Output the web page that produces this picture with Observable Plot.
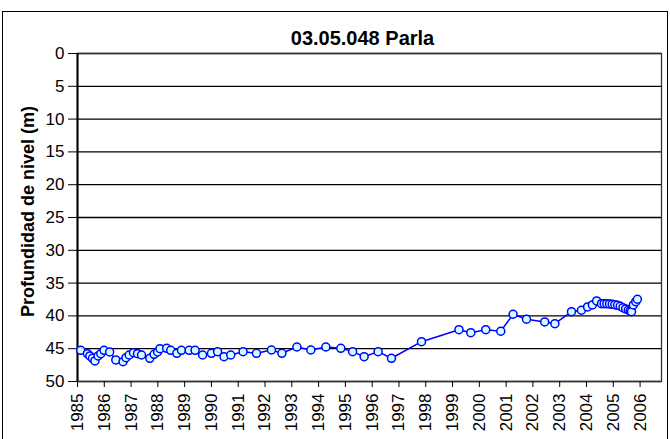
<!DOCTYPE html>
<html><head><meta charset="utf-8">
<script src="https://cdn.jsdelivr.net/npm/d3@7"></script>
<script src="https://cdn.jsdelivr.net/npm/@observablehq/plot@0.6"></script>
<style>body{margin:0;background:#fff;} #chart{width:670px;height:439px;}</style>
</head><body><div id="chart"></div>
<script>
const title = "03.05.048 Parla";
const yLabel = "Profundidad de nivel (m)";
const dates = [
  1985.12, 1985.37, 1985.46, 1985.56, 1985.65, 1985.77, 1985.87, 1985.99, 1986.20, 1986.43,
  1986.70, 1986.81, 1986.93, 1987.09, 1987.24, 1987.39, 1987.70, 1987.86, 1987.99, 1988.08,
  1988.33, 1988.48, 1988.71, 1988.88, 1989.17, 1989.39, 1989.67, 1990.00, 1990.23, 1990.47,
  1990.72, 1991.18, 1991.68, 1992.24, 1992.63, 1993.19, 1993.71, 1994.27, 1994.83, 1995.27,
  1995.70, 1996.22, 1996.72, 1997.84, 1999.24, 1999.68, 2000.24, 2000.80, 2001.26, 2001.76,
  2002.44, 2002.82, 2003.44, 2003.81, 2004.04, 2004.22, 2004.38, 2004.56, 2004.66, 2004.76,
  2004.86, 2004.96, 2005.06, 2005.16, 2005.26, 2005.36, 2005.46, 2005.56, 2005.63, 2005.68,
  2005.75, 2005.84, 2005.90
];
const depths = [
  45.24, 45.76, 46.11, 46.46, 46.87, 46.11, 45.76, 45.24, 45.50, 46.72,
  46.98, 46.37, 45.96, 45.61, 45.76, 45.96, 46.46, 45.85, 45.50, 45.00,
  44.94, 45.24, 45.70, 45.24, 45.24, 45.24, 45.96, 45.70, 45.45, 46.22,
  45.96, 45.45, 45.70, 45.20, 45.70, 44.74, 45.20, 44.74, 44.94, 45.45,
  46.22, 45.45, 46.46, 43.93, 42.10, 42.56, 42.10, 42.34, 39.75, 40.51,
  40.92, 41.18, 39.35, 39.14, 38.64, 38.33, 37.72, 38.13, 38.13, 38.13,
  38.18, 38.23, 38.29, 38.38, 38.53, 38.74, 38.94, 39.10, 39.25, 39.36,
  38.33, 37.83, 37.46
];
const yearTicks = [1985,1986,1987,1988,1989,1990,1991,1992,1993,1994,1995,1996,1997,1998,1999,2000,2001,2002,2003,2004,2005,2006];
const depthTicks = [0,5,10,15,20,25,30,35,40,45,50];

const data = dates.map((t, i) => ({t, d: depths[i]}));

const chart = Plot.plot({
  width: 670, height: 439,
  marginLeft: 77, marginRight: 9, marginTop: 53, marginBottom: 58,
  style: {fontFamily: "Arial, 'Liberation Sans', sans-serif", background: "#fff", color: "#000"},
  x: {domain: [1985, 2006.8]},
  y: {domain: [0, 50], reverse: true},
  marks: [
    Plot.ruleY(depthTicks, {stroke: "#000", strokeWidth: 1.3}),
    Plot.frame({stroke: "#333", strokeWidth: 1.3}),
    Plot.ruleX([1985], {stroke: "#000", strokeWidth: 2}),
    Plot.axisX({ticks: yearTicks, tickFormat: d3.format("d"), tickRotate: -90, tickSize: 6, tickPadding: 6, fontSize: 17, label: null}),
    Plot.axisY({ticks: depthTicks, tickSize: 9, tickPadding: 4, fontSize: 17, label: null}),
    Plot.text([title], {text: d => d, frameAnchor: "top", dy: -23, dx: -7, fontSize: 20, fontWeight: "bold"}),
    Plot.text([yLabel], {text: d => d, frameAnchor: "left", textAnchor: "middle", dx: -49, dy: -6, rotate: -90, fontSize: 18, fontWeight: "bold"}),
    Plot.line(data, {x: "t", y: "d", stroke: "#0000ff", strokeWidth: 1.5}),
    Plot.dot(data, {x: "t", y: "d", r: 4, fill: "#ccffff", stroke: "#0000ff", strokeWidth: 1.5})
  ]
});
d3.select(chart).append("rect")
  .attr("x", 2.5).attr("y", 11.5).attr("width", 665).attr("height", 440)
  .attr("fill", "none").attr("stroke", "#000").attr("stroke-width", 1);
document.getElementById("chart").appendChild(chart);
</script>
</body></html>
